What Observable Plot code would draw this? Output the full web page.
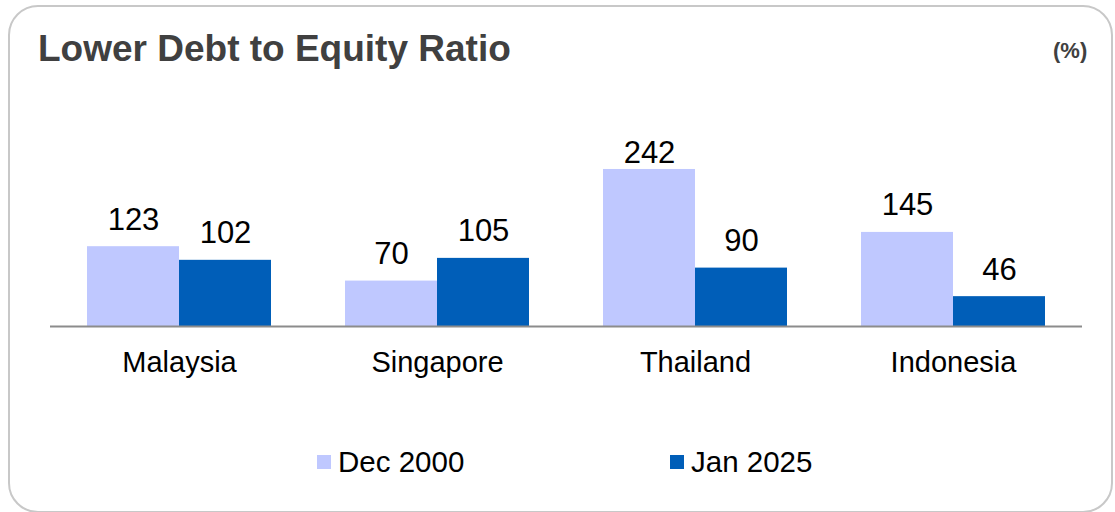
<!DOCTYPE html>
<html>
<head>
<meta charset="utf-8">
<script src="https://cdn.jsdelivr.net/npm/d3@7"></script>
<script src="https://cdn.jsdelivr.net/npm/@observablehq/plot@0.6"></script>
<style>
  html, body { margin: 0; padding: 0; background: #fff; }
  body { font-family: "Liberation Sans", Arial, sans-serif; }
  #wrap { position: relative; width: 1115px; height: 512px; overflow: hidden; }
  #card { position: absolute; left: 8px; top: 5px; width: 1105px; height: 508px; box-sizing: border-box;
          border: 2px solid #c8c8c8; border-radius: 30px; }
  #title { position: absolute; left: 38px; top: 29.5px; font-size: 37px; line-height: 1; font-weight: bold; color: #404040; white-space: nowrap; }
  #unit { position: absolute; left: 1053px; top: 40px; font-size: 22px; line-height: 1; font-weight: bold; color: #404040; }
  #chart { position: absolute; left: 0; top: 100px; }
  .lg { position: absolute; font-size: 29.5px; line-height: 1; color: #000; white-space: nowrap; }
  .sw { position: absolute; width: 14px; height: 14px; }
</style>
</head>
<body>
<div id="wrap">
  <div id="card"></div>
  <div id="title">Lower Debt to Equity Ratio</div>
  <div id="unit">(%)</div>
  <div id="chart"></div>
  <div id="legend"></div>
</div>
<script>
const countries = ["Malaysia", "Singapore", "Thailand", "Indonesia"];
const series = ["Dec 2000", "Jan 2025"];
const dec2000 = [123, 70, 242, 145];
const jan2025 = [102, 105, 90, 46];
const colors = ["#BFC8FF", "#005EB8"];
// labels cannot rise above the top of the plot area (value units)
const labelCap = 226;

const data = countries.flatMap((c, i) => [
  {country: c, series: series[0], value: dec2000[i]},
  {country: c, series: series[1], value: jan2025[i]}
]);

const chart = Plot.plot({
  width: 1115,
  height: 310,
  marginLeft: 50,
  marginRight: 33,
  marginTop: 20,
  marginBottom: 84,
  style: {fontFamily: '"Liberation Sans", Arial, sans-serif', fontSize: "29px", color: "#000", background: "transparent"},
  fx: {domain: countries, paddingInner: 0.287, paddingOuter: 0.1435, label: null, tickSize: 0, tickPadding: 25},
  x: {domain: series, padding: 0, axis: null},
  y: {domain: [0, 317.5], axis: null},
  color: {domain: series, range: colors},
  marks: [
    Plot.barY(data, {fx: "country", x: "series", y: "value", fill: "series"}),
    Plot.ruleY([0], {stroke: "#8c8c8c", strokeWidth: 2, insetLeft: -37, insetRight: -37}),
    Plot.text(data, {fx: "country", x: "series", y: d => Math.min(d.value, labelCap), text: d => String(d.value),
      lineAnchor: "bottom", dy: -17, fontSize: 31, fill: "#000"})
  ]
});
document.getElementById("chart").appendChild(chart);

// legend built from the same series/colors
const legend = document.getElementById("legend");
const legendX = [317, 670];
series.forEach((s, i) => {
  const sw = document.createElement("div");
  sw.className = "sw";
  sw.style.left = legendX[i] + "px";
  sw.style.top = "455px";
  sw.style.background = colors[i];
  legend.appendChild(sw);
  const t = document.createElement("div");
  t.className = "lg";
  t.style.left = (legendX[i] + 21) + "px";
  t.style.top = "446.7px";
  t.textContent = s;
  legend.appendChild(t);
});
</script>
</body>
</html>
